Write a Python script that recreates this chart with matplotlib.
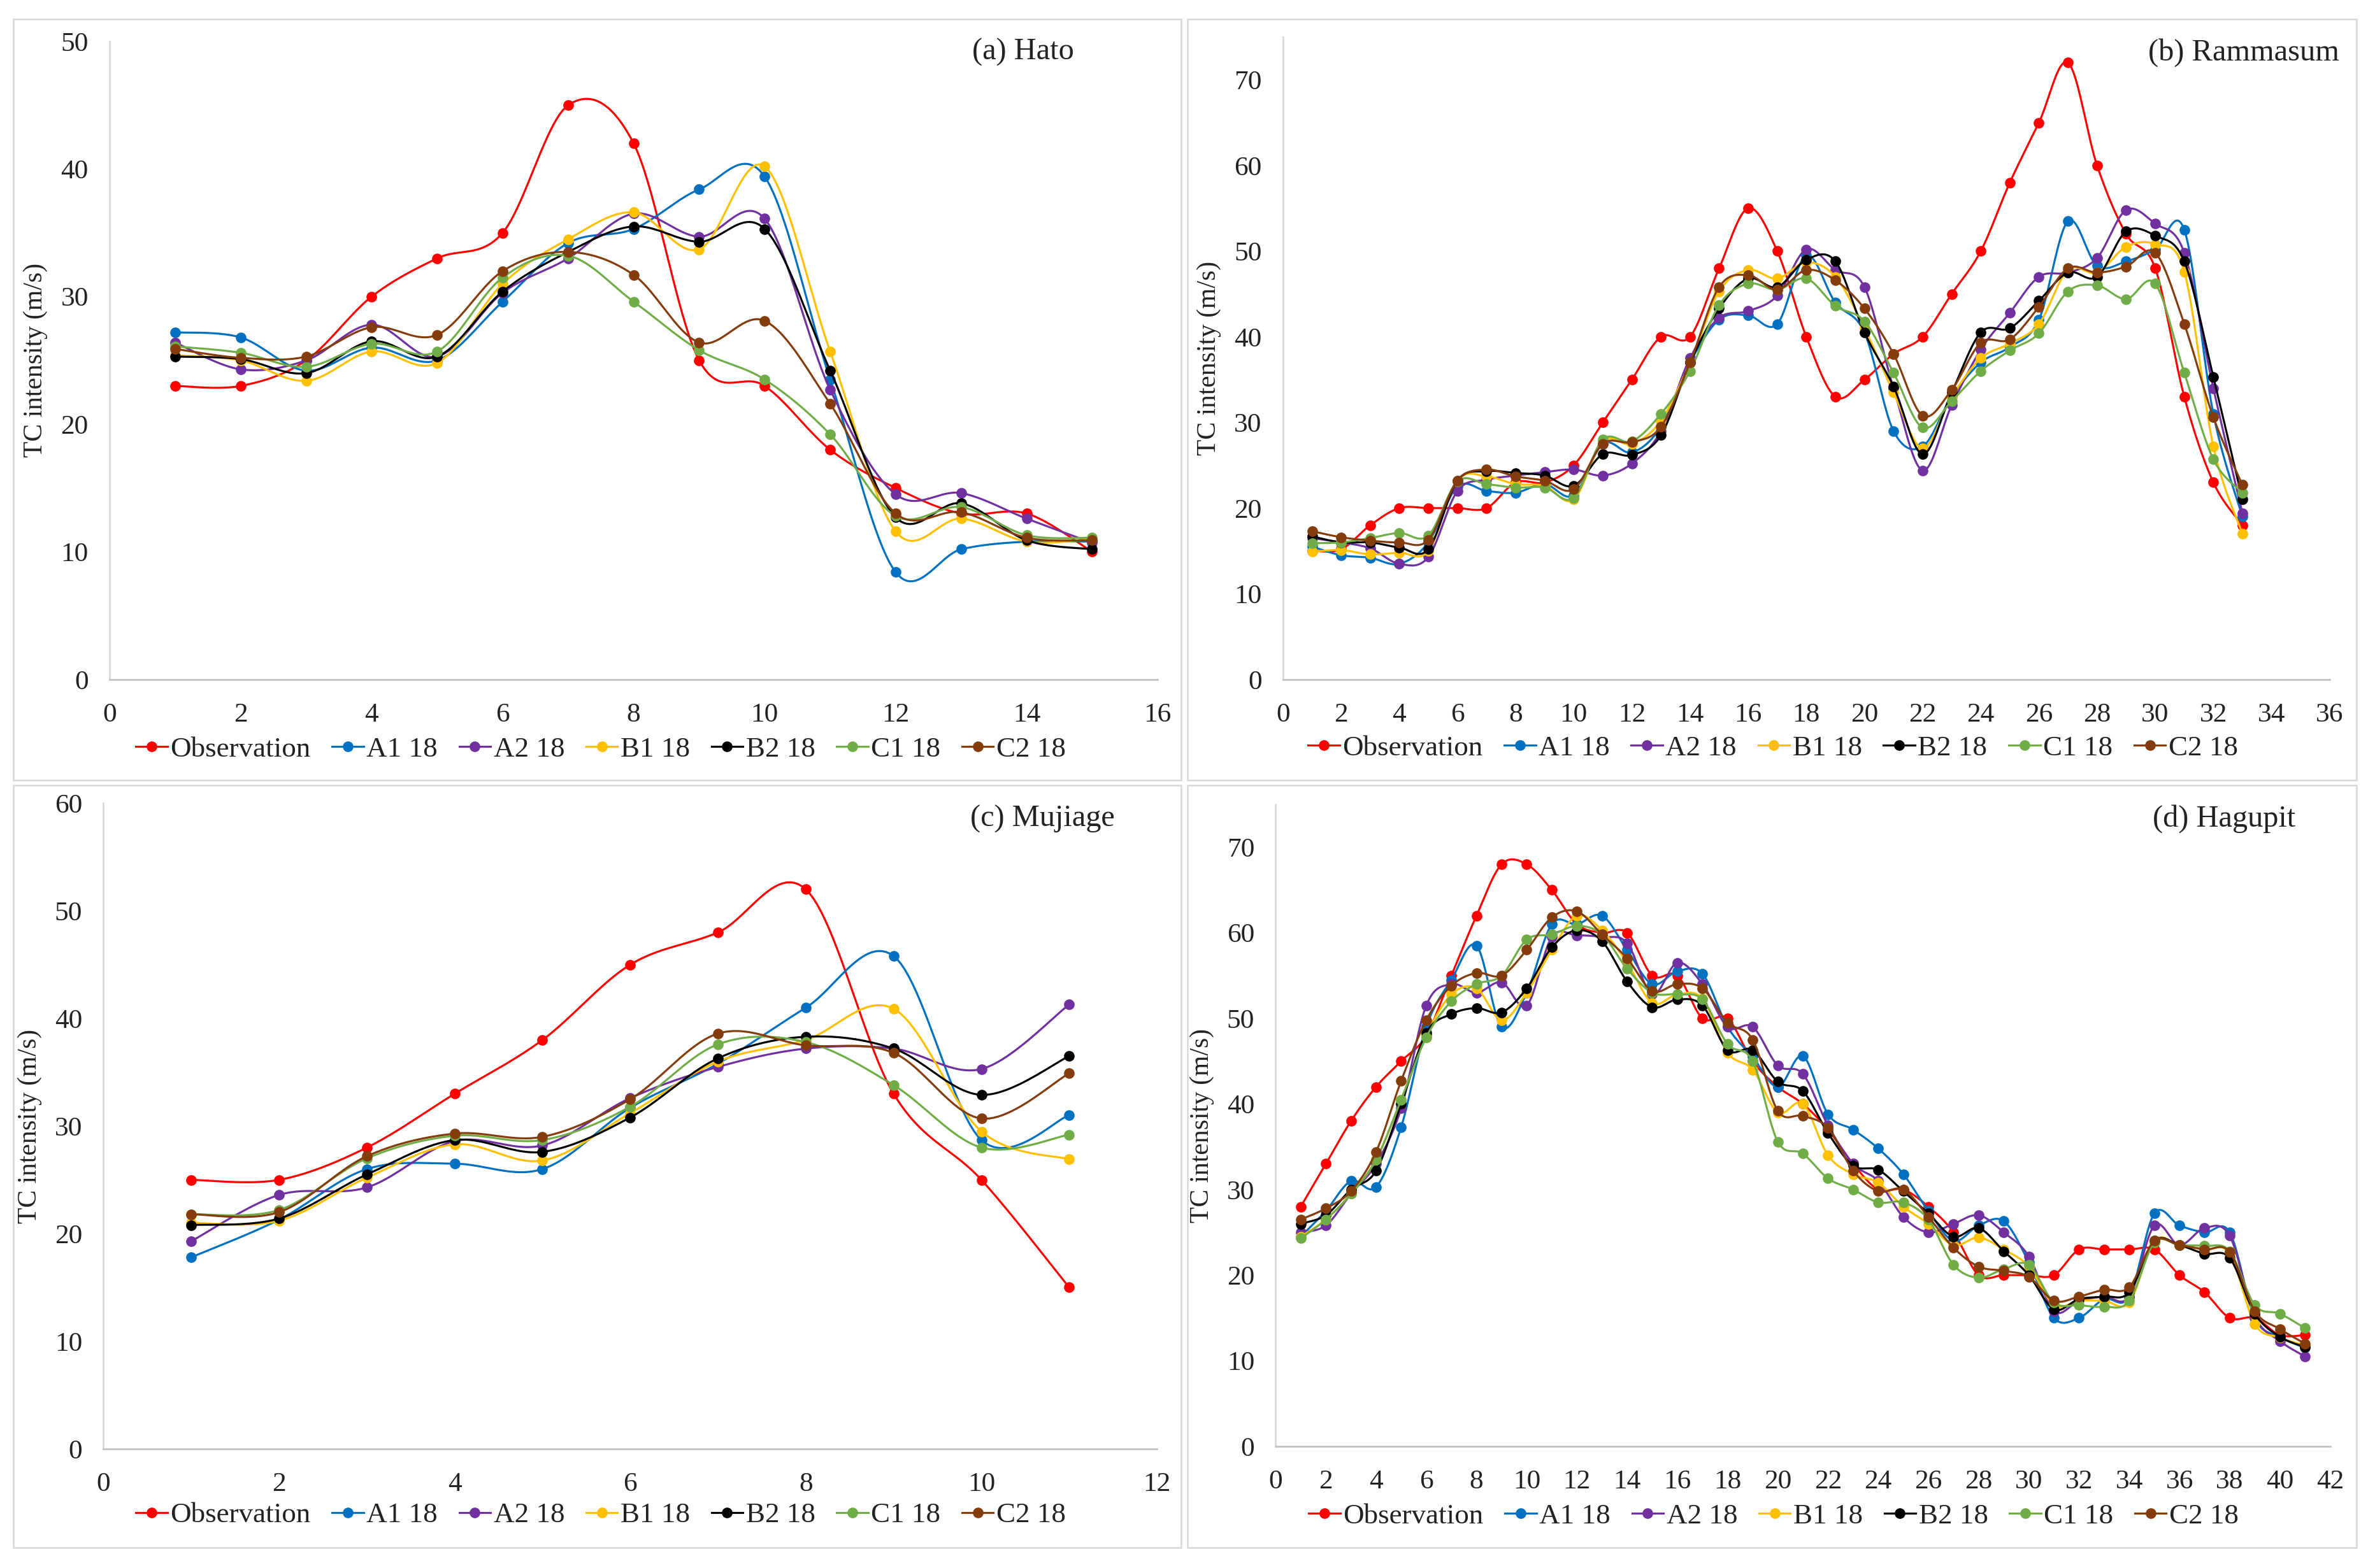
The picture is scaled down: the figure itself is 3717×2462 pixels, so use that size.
import numpy as np
import matplotlib
matplotlib.use("Agg")
import matplotlib.pyplot as plt
from matplotlib.lines import Line2D
from matplotlib.patches import Rectangle

plt.rcParams['font.family'] = ['Liberation Serif', 'DejaVu Serif']

series_names = ["Observation", "A1 18", "A2 18", "B1 18", "B2 18", "C1 18", "C2 18"]
colors = ["#FF0000", "#0070C0", "#7030A0", "#FFC000", "#000000", "#70AD47", "#843C0C"]

# (a) Hato
hato_obs = [23, 23, 25, 30, 33, 35, 45, 42, 25, 23, 18, 15, 13, 13, 10]
hato_A1 = [27.2, 26.8, 24.2, 26.0, 25.0, 29.6, 34.2, 35.3, 38.4, 39.4, 23.5, 8.4, 10.2, 10.8, 10.8]
hato_A2 = [26.4, 24.3, 25.0, 27.8, 25.3, 30.3, 33.0, 36.5, 34.7, 36.1, 22.7, 14.5, 14.6, 12.6, 10.7]
hato_B1 = [25.4, 25.0, 23.4, 25.7, 24.8, 31.0, 34.5, 36.6, 33.7, 40.2, 25.7, 11.6, 12.6, 10.8, 11.0]
hato_B2 = [25.3, 25.1, 24.0, 26.5, 25.3, 30.4, 33.5, 35.5, 34.3, 35.3, 24.2, 12.7, 13.8, 10.9, 10.2]
hato_C1 = [26.1, 25.6, 24.5, 26.3, 25.7, 31.5, 33.2, 29.6, 25.8, 23.5, 19.2, 12.8, 13.5, 11.3, 11.1]
hato_C2 = [25.9, 25.2, 25.3, 27.6, 27.0, 32.0, 33.5, 31.7, 26.4, 28.1, 21.6, 13.0, 13.1, 11.1, 10.9]

# (b) Rammasum
ram_obs = [15, 15.2, 18, 20, 20, 20, 20, 23, 23, 25, 30, 35, 40, 40, 48, 55, 50, 40, 33, 35, 38, 40,
           45, 50, 58, 65, 72, 60, 52, 48, 33, 23, 18]
ram_A1 = [15.5, 14.5, 14.2, 13.5, 16.0, 22.5, 22.0, 21.8, 22.8, 21.5, 27.5, 26.5, 29.5, 37, 42, 42.5, 41.5,
          49.5, 44, 40.5, 29, 27.2, 33, 37, 38.8, 42, 53.5, 48.3, 48.8, 50.2, 52.5, 31, 19]
ram_A2 = [16.5, 16, 15.3, 13.5, 14.3, 22, 23.3, 23.8, 24.2, 24.5, 23.8, 25.2, 29, 37.5, 42.2, 43, 44.8,
          50.2, 47.8, 45.8, 34, 24.4, 32, 38.5, 42.8, 47, 47.5, 49.2, 54.8, 53.2, 49.8, 34, 19.4]
ram_B1 = [14.9, 15.1, 14.6, 14.8, 15.0, 23.2, 23.7, 22.8, 22.6, 21, 27.8, 27.5, 30.2, 37, 45.3, 47.8, 46.8,
          48.7, 47, 41, 33.5, 27, 33, 37.5, 39.2, 41.5, 47.8, 47.5, 50.5, 50.8, 47.6, 27.2, 17]
ram_B2 = [16.7, 16.0, 16.0, 15.4, 15.2, 23.2, 24.3, 24.1, 23.8, 22.6, 26.3, 26.2, 28.5, 37, 43.3, 46.8, 45.8,
          49, 48.8, 40.5, 34.2, 26.3, 33.5, 40.5, 41, 44.2, 47.5, 47, 52.3, 51.8, 48.8, 35.3, 21]
ram_C1 = [15.9, 16.0, 16.5, 17.1, 16.8, 23.1, 22.8, 22.4, 22.4, 21.2, 28.0, 27.8, 31.0, 36, 43.7, 46.2, 45.5,
          46.8, 43.6, 41.8, 35.8, 29.4, 32.5, 36, 38.4, 40.4, 45.3, 46, 44.4, 46.2, 35.8, 25.7, 21.8]
ram_C2 = [17.3, 16.6, 16.2, 16.0, 16.3, 23.2, 24.5, 23.7, 23.2, 22.2, 27.5, 27.7, 29.5, 37, 45.8, 47.2, 45.5,
          47.8, 46.6, 43.3, 38, 30.8, 33.8, 39.3, 39.7, 43.5, 48, 47.5, 48.2, 49.8, 41.5, 30.6, 22.7]

# (c) Mujiage
muj_obs = [25, 25, 28, 33, 38, 45, 48, 52, 33, 25, 15]
muj_A1 = [17.8, 21.3, 26.0, 26.5, 26.0, 31.7, 35.8, 41, 45.8, 28.7, 31]
muj_A2 = [19.3, 23.6, 24.3, 28.6, 28.2, 32.6, 35.5, 37.2, 37.2, 35.3, 41.3]
muj_B1 = [21.0, 21.2, 25.2, 28.3, 26.8, 31.2, 36.0, 38, 40.9, 29.5, 26.9]
muj_B2 = [20.8, 21.4, 25.5, 28.7, 27.6, 30.8, 36.3, 38.3, 37.2, 32.9, 36.5]
muj_C1 = [21.8, 22.2, 27.0, 29.1, 28.7, 31.8, 37.6, 37.8, 33.8, 28.0, 29.2]
muj_C2 = [21.8, 22.0, 27.2, 29.3, 29.0, 32.5, 38.6, 37.5, 36.8, 30.7, 34.9]

# (d) Hagupit
hag_obs = [28, 33, 38, 42, 45, 48, 55, 62, 68, 68, 65, 61, 60, 60, 55, 55, 50, 50, 45, 42, 40, 37,
           33, 30, 30, 28, 25, 20, 20, 20, 20, 23, 23, 23, 23, 20, 18, 15, 15, 13, 13]
hag_A1 = [24.5, 27.5, 31, 30.3, 37.3, 49, 54.5, 58.5, 49, 53, 61, 61, 62, 58, 54, 55.5, 55.2, 49, 45.5, 42,
          45.6, 38.8, 37, 34.8, 31.8, 27.5, 24, 25.8, 26.3, 21.5, 15, 15, 17.2, 17.5, 27.2, 25.8, 25, 25,
          15, 12.8, 11.5]
hag_A2 = [25, 25.8, 29.5, 33, 39.5, 51.5, 54, 53, 54.2, 51.5, 59.5, 59.7, 59.5, 58.8, 52.8, 56.5, 54, 49,
          49, 44.5, 43.5, 37.5, 33, 31, 26.8, 25, 26, 27, 25, 22.2, 15.8, 17, 17.5, 17.5, 25.8, 23.5, 25.5,
          24.6, 15.2, 12.3, 10.5]
hag_B1 = [24.5, 26.5, 29.5, 33.5, 40.5, 48, 52.8, 53.5, 49.8, 53, 58, 62, 60.3, 56.5, 51.8, 52.8, 52.3,
          46, 44, 39, 40, 34, 31.8, 30.8, 28, 26, 23.5, 24.4, 23, 21, 16.5, 17, 17, 16.8, 24, 23.5, 23,
          22.5, 14.3, 12.7, 11.8]
hag_B2 = [26, 27, 30, 32.2, 40, 48.3, 50.5, 51.2, 50.7, 53.5, 58.3, 60.3, 59, 54.3, 51.3, 52.2, 51.5,
          46.3, 46.3, 42.6, 41.5, 36.6, 32.8, 32.3, 29.8, 27.2, 24.5, 25.5, 22.8, 20, 16, 17.2, 17.5, 18,
          24, 23.5, 22.5, 22, 15.5, 12.8, 11.6]
hag_C1 = [24.3, 26.5, 29.5, 33.5, 40.5, 47.8, 52, 54, 55, 59.2, 59.8, 60.8, 59.8, 55.8, 53, 52.8, 52.2,
          47, 45, 35.6, 34.2, 31.3, 30, 28.5, 28.5, 26.5, 21.2, 19.7, 20.7, 21.2, 16.8, 16.5, 16.3, 17,
          23.8, 23.5, 23.4, 22.8, 16.5, 15.5, 13.8]
hag_C2 = [26.5, 27.8, 29.8, 34.4, 42.7, 49.8, 53.8, 55.3, 55, 58, 61.8, 62.5, 59.8, 57, 53.2, 54, 53.5,
          49.5, 47.5, 39.2, 38.6, 37.2, 32.2, 29.8, 30, 26.8, 23.2, 21, 20.5, 19.8, 17, 17.5, 18.3, 18.6,
          24, 23.5, 23, 22.7, 15.8, 13.7, 12]

panels = [
    dict(title="(a) Hato", data=[hato_obs, hato_A1, hato_A2, hato_B1, hato_B2, hato_C1, hato_C2],
         xmax=16, xstep=2, ymax=50, yticks=range(0, 51, 10),
         rect=[0.0463, 0.5667, 0.4426, 0.4069], title_xy=(0.92, 0.983), leg=(0.2537, 0.522),
         border=(0.0056, 0.5024, 0.4932, 0.4854)),
    dict(title="(b) Rammasum", data=[ram_obs, ram_A1, ram_A2, ram_B1, ram_B2, ram_C1, ram_C2],
         xmax=36, xstep=2, ymax=75, yticks=range(0, 71, 10),
         rect=[0.5418, 0.5667, 0.4420, 0.4097], title_xy=(1.009, 0.976), leg=(0.7487, 0.523),
         border=(0.5015, 0.5024, 0.4937, 0.4854)),
    dict(title="(c) Mujiage", data=[muj_obs, muj_A1, muj_A2, muj_B1, muj_B2, muj_C1, muj_C2],
         xmax=12, xstep=2, ymax=60, yticks=range(0, 61, 10),
         rect=[0.0437, 0.0760, 0.4449, 0.4117], title_xy=(0.96, 0.976), leg=(0.2537, 0.0337),
         border=(0.0056, 0.0130, 0.4932, 0.4862)),
    dict(title="(d) Hagupit", data=[hag_obs, hag_A1, hag_A2, hag_B1, hag_B2, hag_C1, hag_C2],
         xmax=42, xstep=2, ymax=75, yticks=range(0, 71, 10),
         rect=[0.5387, 0.0776, 0.4453, 0.4094], title_xy=(0.967, 0.978), leg=(0.749, 0.033),
         border=(0.5015, 0.0130, 0.4937, 0.4862)),
]


def smooth_curve(x, y, n=24):
    P = np.column_stack([x, y]).astype(float)
    m = len(P)
    xs, ys = [], []
    t = np.linspace(0, 1, n)
    for i in range(m - 1):
        p0 = P[i - 1] if i > 0 else P[i]
        p1 = P[i]
        p2 = P[i + 1]
        p3 = P[i + 2] if i + 2 < m else P[i + 1]
        c1 = p1 + (p2 - p0) / 6.0
        c2 = p2 - (p3 - p1) / 6.0
        tt = t[:, None]
        B = ((1 - tt) ** 3) * p1 + 3 * ((1 - tt) ** 2) * tt * c1 + 3 * (1 - tt) * tt ** 2 * c2 + tt ** 3 * p2
        if i > 0:
            B = B[1:]
        xs.append(B[:, 0])
        ys.append(B[:, 1])
    return np.concatenate(xs), np.concatenate(ys)


fig = plt.figure(figsize=(3717 / 240, 2462 / 240), dpi=240)

TICK_FS = 13
LEG_FS = 13.5
TITLE_FS = 14.5
YLAB_FS = 12.5
for p in panels:
    bl, bb, bw, bh = p["border"]
    fig.patches.append(Rectangle((bl, bb), bw, bh, transform=fig.transFigure,
                                 fill=False, edgecolor="#D9D9D9", linewidth=0.8))
    ax = fig.add_axes(p["rect"])
    for k, vals in enumerate(p["data"]):
        x = np.arange(1, len(vals) + 1)
        sx, sy = smooth_curve(x, vals)
        ax.plot(sx, sy, color=colors[k], lw=0.95, zorder=2 + k, solid_capstyle="round")
        ax.plot(x, vals, linestyle="none", marker="o", ms=4.0, color=colors[k], zorder=2 + k)
    ax.set_xlim(0, p["xmax"])
    ax.set_ylim(0, p["ymax"])
    ax.set_xticks(range(0, p["xmax"] + 1, p["xstep"]))
    ax.set_yticks(list(p["yticks"]))
    ax.tick_params(length=0, labelsize=TICK_FS, colors="#222222")
    ax.tick_params(axis="y", pad=10)
    ax.tick_params(axis="x", pad=11)
    for s in ["top", "right"]:
        ax.spines[s].set_visible(False)
    ax.spines["left"].set_color("#D9D9D9")
    ax.spines["bottom"].set_color("#BFBFBF")
    ax.spines["left"].set_linewidth(0.8)
    ax.spines["bottom"].set_linewidth(0.8)
    ax.set_ylabel("TC intensity (m/s)", fontsize=YLAB_FS, labelpad=6, color="#222222")
    ax.text(p["title_xy"][0], p["title_xy"][1], p["title"], transform=ax.transAxes,
            ha="right", va="center", fontsize=TITLE_FS, color="#222222")
    handles = [Line2D([0], [0], color=colors[k], lw=0.95, marker="o", ms=4.0) for k in range(7)]
    fig.legend(handles, series_names, loc="center", bbox_to_anchor=p["leg"], ncol=7,
               frameon=False, fontsize=LEG_FS, handlelength=1.1, handletextpad=0.1,
               columnspacing=0.75, numpoints=1, labelcolor="#222222")

fig.savefig("out.png", dpi=240, facecolor="white")
